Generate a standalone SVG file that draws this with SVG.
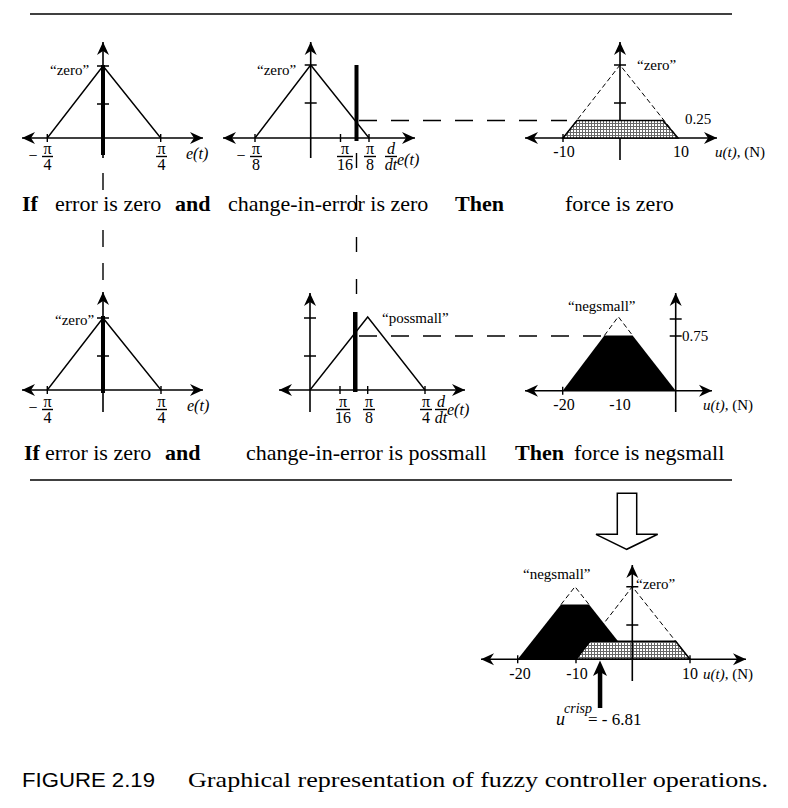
<svg xmlns="http://www.w3.org/2000/svg" width="788" height="808" viewBox="0 0 788 808">
<style>
.ax{stroke:#000;stroke-width:1.6;fill:none;marker-end:url(#ah)}
.ax2{stroke:#000;stroke-width:1.6;fill:none;marker-end:url(#ah);marker-start:url(#ah)}
.tk{stroke:#000;stroke-width:1.4;fill:none}
.mf{stroke:#000;stroke-width:1.4;fill:none}
.dmf{stroke:#000;stroke-width:1;fill:none;stroke-dasharray:5 3}
.bar{fill:#000}
.lb{font-family:"Liberation Serif",serif;font-size:15px;fill:#000}
.fr{font-family:"Liberation Serif",serif;font-size:16px;fill:#000;text-anchor:middle}
.it{font-style:italic}
.rule{font-family:"Liberation Serif",serif;font-size:22px;fill:#000}
.b{font-weight:bold}
.cn{stroke:#000;stroke-width:1.4;fill:none;stroke-dasharray:18 14}
.hr{stroke:#000;stroke-width:1.5}
</style>
<defs>
<marker id="ah" viewBox="-14 -7 15 14" refX="0" refY="0" markerWidth="15" markerHeight="14" markerUnits="userSpaceOnUse" orient="auto-start-reverse">
<path d="M0,0 L-13,-6 L-9,0 L-13,6 Z" fill="#000"/>
</marker>
<pattern id="dots" width="3" height="3" patternUnits="userSpaceOnUse">
<rect width="3" height="3" fill="#fff"/>
<path d="M0,0.5H3M0.5,0V3" stroke="#666" stroke-width="1"/>
</pattern>
</defs>
<rect width="788" height="808" fill="#fff"/>
<line class="hr" x1="30" y1="14" x2="732" y2="14"/>
<line class="hr" x1="30" y1="480" x2="732" y2="480"/>

<g id="connectors">
<line class="cn" x1="103" y1="173" x2="103" y2="280" style="stroke-dasharray:17 40 17 16 17 20"/>
<line class="cn" x1="356.5" y1="153" x2="356.5" y2="311" style="stroke-dasharray:15 27"/>
<line class="cn" x1="359" y1="120.5" x2="567" y2="120.5"/>
<line class="cn" x1="359" y1="336" x2="603" y2="336"/>
</g>

<g id="p1">
<line class="ax2" x1="22" y1="138" x2="203" y2="138"/>
<line class="ax" x1="103" y1="158" x2="103" y2="42"/>
<path class="tk" d="M47.3,134V142M160.7,134V142M97,66H109M97,104H109"/>
<polyline class="mf" points="47.3,138 103,66 160.7,138"/>
<rect class="bar" x="101" y="65" width="4" height="90"/>
<text class="lb" x="50" y="75">“zero”</text>
<text class="fr" x="33" y="161">−</text>
<text class="fr" x="47.5" y="154">π</text>
<line class="tk" x1="42" y1="156.5" x2="53" y2="156.5"/>
<text class="fr" x="47.5" y="170">4</text>
<text class="fr" x="161.5" y="154">π</text>
<line class="tk" x1="156" y1="156.5" x2="167" y2="156.5"/>
<text class="fr" x="161.5" y="170">4</text>
<text class="lb it" x="186" y="159" style="font-size:16px">e(t)</text>
</g>

<g id="p2">
<line class="ax2" x1="223" y1="138" x2="415" y2="138"/>
<line class="ax" x1="310.7" y1="158" x2="310.7" y2="42"/>
<path class="tk" d="M255,134V142M340.5,134V142M369,134V142M304.7,65H316.7M304.7,103H316.7"/>
<polyline class="mf" points="255,138 310.7,65 369,138"/>
<rect class="bar" x="354.5" y="65" width="4" height="76"/>
<text class="lb" x="257" y="75">“zero”</text>
<text class="fr" x="241" y="161">−</text>
<text class="fr" x="256" y="154">π</text>
<line class="tk" x1="250" y1="156.5" x2="262" y2="156.5"/>
<text class="fr" x="256" y="170">8</text>
<text class="fr" x="345" y="154">π</text>
<line class="tk" x1="337" y1="156.5" x2="353" y2="156.5"/>
<text class="fr" x="345" y="170">16</text>
<text class="fr" x="370" y="154">π</text>
<line class="tk" x1="364" y1="156.5" x2="376" y2="156.5"/>
<text class="fr" x="370" y="170">8</text>
<text class="fr it" x="391" y="154">d</text>
<line class="tk" x1="385" y1="156.5" x2="397" y2="156.5"/>
<text class="fr it" x="391" y="170">dt</text>
<text class="lb it" x="397" y="165" style="font-size:16px">e(t)</text>
</g>

<g id="p3">
<line class="ax2" x1="525" y1="138" x2="717" y2="138"/>
<line class="ax" x1="620" y1="160" x2="620" y2="42"/>
<polyline class="dmf" points="563,138 620,65 678,138"/>
<polygon points="563,138 577,120.5 663,120.5 678,138" fill="url(#dots)" stroke="#000" stroke-width="1.5"/>
<path class="tk" d="M563,134V142M614,65H626M614,103H626"/>
<text class="lb" x="637" y="70">“zero”</text>
<text class="lb" x="685" y="124">0.25</text>
<text class="fr" x="564" y="157">-10</text>
<text class="fr" x="681" y="157">10</text>
<text class="lb" x="715" y="157"><tspan class="it">u(t)</tspan>, (N)</text>
</g>

<g id="rule1">
<text class="rule b" x="22" y="211">If</text>
<text class="rule" x="55" y="211">error is zero</text>
<text class="rule b" x="175" y="211">and</text>
<text class="rule" x="228" y="211">change-in-error is zero</text>
<text class="rule b" x="455" y="211">Then</text>
<text class="rule" x="565" y="211">force is zero</text>
</g>

<g id="p4">
<line class="ax2" x1="22" y1="390" x2="203" y2="390"/>
<line class="ax" x1="103" y1="412" x2="103" y2="292"/>
<path class="tk" d="M47.3,386V394M161,386V394M97,318H109M97,356H109"/>
<polyline class="mf" points="47.3,390 103,318 161,390"/>
<rect class="bar" x="101" y="316" width="4" height="77"/>
<text class="lb" x="55" y="325">“zero”</text>
<text class="fr" x="33" y="413">−</text>
<text class="fr" x="47.5" y="407">π</text>
<line class="tk" x1="42" y1="409.5" x2="53" y2="409.5"/>
<text class="fr" x="47.5" y="423">4</text>
<text class="fr" x="161.5" y="407">π</text>
<line class="tk" x1="156" y1="409.5" x2="167" y2="409.5"/>
<text class="fr" x="161.5" y="423">4</text>
<text class="lb it" x="187" y="411" style="font-size:16px">e(t)</text>
</g>

<g id="p5">
<line class="ax2" x1="279" y1="390" x2="465" y2="390"/>
<line class="ax" x1="310" y1="412" x2="310" y2="293"/>
<path class="tk" d="M340,386V394M367.7,386V394M425,386V394M304,318H316M304,356H316"/>
<polyline class="mf" points="310,390 367.7,317 425,390"/>
<rect class="bar" x="353" y="312" width="4.5" height="80"/>
<text class="lb" x="382" y="323">“possmall”</text>
<text class="fr" x="343" y="407">π</text>
<line class="tk" x1="336" y1="409.5" x2="350" y2="409.5"/>
<text class="fr" x="343" y="423">16</text>
<text class="fr" x="369" y="407">π</text>
<line class="tk" x1="363" y1="409.5" x2="375" y2="409.5"/>
<text class="fr" x="369" y="423">8</text>
<text class="fr" x="426" y="407">π</text>
<line class="tk" x1="420" y1="409.5" x2="432" y2="409.5"/>
<text class="fr" x="426" y="423">4</text>
<text class="fr it" x="441" y="407">d</text>
<line class="tk" x1="435" y1="409.5" x2="447" y2="409.5"/>
<text class="fr it" x="441" y="423">dt</text>
<text class="lb it" x="447" y="415" style="font-size:16px">e(t)</text>
</g>

<g id="p6">
<line class="ax2" x1="525" y1="390.7" x2="712" y2="390.7"/>
<line class="ax" x1="675.7" y1="412" x2="675.7" y2="293"/>
<polygon points="562.7,390.7 604.4,335.5 632.6,335.5 675.7,390.7" fill="#000"/>
<polyline class="dmf" points="604.4,335.5 618.3,316.7 632.6,335.5"/>
<path class="tk" d="M562.7,386.7V394.7M669.7,319H681.7M669.7,336H681.7"/>
<text class="lb" x="568" y="311">“negsmall”</text>
<text class="lb" x="682" y="341">0.75</text>
<text class="fr" x="564" y="410">-20</text>
<text class="fr" x="620" y="410">-10</text>
<text class="lb" x="703" y="410"><tspan class="it">u(t)</tspan>, (N)</text>
</g>

<g id="rule2">
<text class="rule b" x="24" y="460">If</text>
<text class="rule" x="45" y="460">error is zero</text>
<text class="rule b" x="165" y="460">and</text>
<text class="rule" x="246" y="460">change-in-error is possmall</text>
<text class="rule b" x="515" y="460">Then</text>
<text class="rule" x="574" y="460">force is negsmall</text>
</g>

<g id="bigarrow">
<polygon points="617.3,493.3 636.7,493.3 636.7,534.3 657.7,534.3 626.7,549.3 596,534.3 617.3,534.3" fill="#fff" stroke="#000" stroke-width="1.5"/>
</g>

<g id="p7">
<polygon points="517.7,659.3 561,604.5 589,604.5 632.3,659.3" fill="#000"/>
<polygon points="576,659.3 590,641.3 675.7,641.3 690,659.3" fill="url(#dots)" stroke="#000" stroke-width="1.5"/>
<polyline class="dmf" points="561,604.5 575,586.7 589,604.5"/>
<polyline class="dmf" points="576,659.3 632.3,586.7 690,659.3"/>
<line class="ax2" x1="481" y1="659.3" x2="746" y2="659.3"/>
<line class="ax" x1="632.3" y1="681" x2="632.3" y2="565"/>
<path class="tk" d="M517.7,655.3V663.3M576,655.3V663.3M690,655.3V663.3M626.3,586.7H638.3M626.3,625H638.3"/>
<text class="lb" x="523" y="579">“negsmall”</text>
<text class="lb" x="636" y="589">“zero”</text>
<text class="fr" x="520" y="679">-20</text>
<text class="fr" x="577" y="679">-10</text>
<text class="fr" x="690" y="679">10</text>
<text class="lb" x="703" y="679"><tspan class="it">u(t)</tspan>, (N)</text>
</g>

<g id="crisp">
<rect x="597.8" y="672" width="4.5" height="36" fill="#000"/>
<polygon points="600,660.5 593,676 600,672 607,676" fill="#000"/>
<text class="lb it" x="556" y="725" style="font-size:18px">u</text>
<text class="lb it" x="564" y="713" style="font-size:14px">crisp</text>
<text class="lb" x="588" y="725" style="font-size:17px">= - 6.81</text>
</g>

<g id="caption">
<text x="22" y="787" font-family="Liberation Sans, sans-serif" font-size="20" textLength="133" lengthAdjust="spacingAndGlyphs">FIGURE 2.19</text>
<text x="188" y="787" font-family="Liberation Serif, serif" font-size="21" textLength="580" lengthAdjust="spacingAndGlyphs">Graphical representation of fuzzy controller operations.</text>
</g>
</svg>
